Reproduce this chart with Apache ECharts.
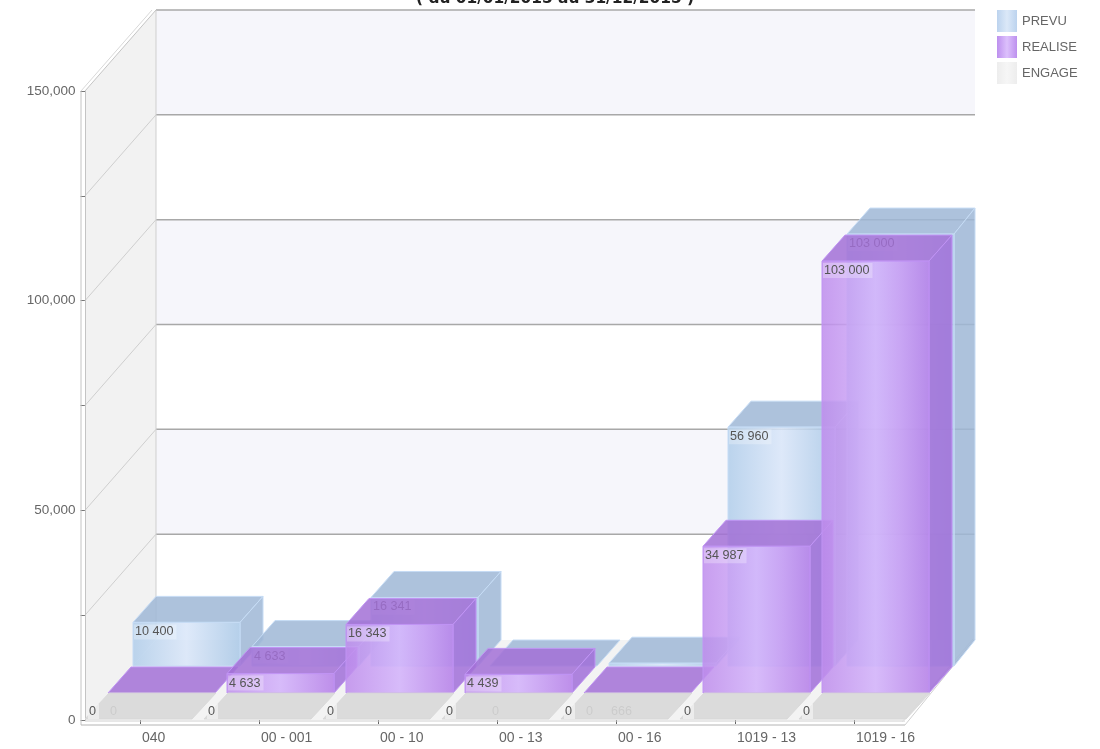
<!DOCTYPE html>
<html>
<head>
<meta charset="utf-8">
<title>PREVU / REALISE / ENGAGE</title>
<script src="https://cdn.jsdelivr.net/npm/echarts@6/dist/echarts.min.js"></script>
<style>
html, body { margin: 0; padding: 0; background: #fff; }
#main { width: 1100px; height: 749px; }
</style>
</head>
<body>
<div id="main"></div>
<script>
var categories = ['040', '00 - 001', '00 - 10', '00 - 13', '00 - 16', '1019 - 13', '1019 - 16'];
var prevu = [10400, 4633, 16341, 0, 666, 56960, 103000];
var realise = [0, 4633, 16343, 4439, 0, 34987, 103000];
var engage = [0, 0, 0, 0, 0, 0, 0];
var wallTicks = [0, 25000, 50000, 75000, 100000, 125000, 150000];
var titleText = '( du 01/01/2015 au 31/12/2015 )';

var dom = document.getElementById('main');
var myChart = echarts.init(dom);

var textFont = '"Liberation Sans", Arial, sans-serif';
var barWidth = 107;

function frontGradient(left, mid, right) {
    return new echarts.graphic.LinearGradient(0, 0, 1, 0, [
        { offset: 0, color: left },
        { offset: 0.5, color: mid },
        { offset: 1, color: right }
    ]);
}

// rows go from front to back, each one is a slab of the floor
var styles = {
    PREVU: {
        row: [48, -54], depth: [23, -26],
        front: ['rgba(176,205,234,0.85)', 'rgba(217,230,249,0.85)', 'rgba(168,199,230,0.85)'],
        top: 'rgba(159,183,214,0.85)', side: 'rgba(159,183,214,0.85)', edge: '#c6dcf5'
    },
    REALISE: {
        row: [23, -27], depth: [23, -26],
        front: ['rgba(190,140,236,0.85)', 'rgba(210,177,251,0.85)', 'rgba(180,125,232,0.85)'],
        top: 'rgba(162,112,214,0.85)', side: 'rgba(160,110,216,0.85)', edge: '#c094f4'
    },
    ENGAGE: {
        row: [0, -1], depth: [24, -26],
        front: ['#e4e4e4', '#eeeeee', '#e4e4e4'],
        top: 'rgba(216,216,216,0.9)', side: 'rgba(216,216,216,0.9)', edge: 'rgba(216,216,216,0.9)'
    }
};

function spaced(v) {
    return String(v).replace(/\B(?=(\d{3})+$)/g, ' ');
}

function poly(points, fill, stroke) {
    return {
        type: 'polygon',
        shape: { points: points },
        style: { fill: fill, stroke: stroke || null, lineWidth: 1 },
        silent: true
    };
}

function line(a, b, color, width) {
    return {
        type: 'line',
        shape: { x1: a[0], y1: a[1], x2: b[0], y2: b[1] },
        style: { stroke: color, lineWidth: width || 1 },
        silent: true
    };
}

function renderWall(params, api) {
    var cs = params.coordSys;
    var x0 = cs.x + 4.5;
    var backX = cs.x + 75.5;
    var rightX = cs.x + 894.5;
    var frontRight = cs.x + 824.5;
    var dy = 81;
    var kids = [];
    var top = api.coord([0, wallTicks[wallTicks.length - 1]])[1];
    var zero = api.coord([0, 0])[1];

    // left wall and floor
    kids.push(poly([[x0, top], [backX, top - dy], [backX, zero - dy], [x0, zero]], '#f2f2f2'));
    kids.push(poly([[x0, zero], [frontRight, zero], [rightX, zero - dy + 1], [backX, zero - dy + 1]], '#f3f3f3'));

    // stripes on the back wall, every second band is tinted
    for (var i = 1; i < wallTicks.length - 1; i += 2) {
        var yA = api.coord([0, wallTicks[i]])[1] - dy;
        var yB = api.coord([0, wallTicks[i + 1]])[1] - dy;
        kids.push(poly([[backX, yA], [rightX, yA], [rightX, yB], [backX, yB]], '#f6f6fb'));
    }

    // wall grid lines and the diagonals on the left wall
    wallTicks.forEach(function (t, n) {
        var y = api.coord([0, t])[1];
        if (n > 0) {
            kids.push(line([backX, y - dy], [rightX, y - dy], '#a8a8a8', 1.5));
        }
        if (n > 0 && n < wallTicks.length - 1) {
            kids.push(line([x0, y], [backX, y - dy], '#cfcfcf'));
        }
    });
    kids.push(line([backX, top - dy], [backX, zero - dy], '#cfcfcf'));

    // doubled frame
    kids.push(line([cs.x + 0.5, top], [cs.x + 0.5, zero + 5], '#c4c4c4'));
    kids.push(line([x0 + 0.5, top], [x0 + 0.5, zero + 1], '#c4c4c4'));
    kids.push(line([cs.x + 0.5, zero + 5], [frontRight, zero + 5], '#b4b4b4'));
    kids.push(line([x0, zero + 1], [frontRight, zero + 1], '#d0d0d0'));
    kids.push(line([frontRight, zero + 5], [rightX, zero - dy], '#d0d0d0'));
    kids.push(line([frontRight - 3, zero + 2], [rightX - 2, zero - dy], '#e0e0e0'));
    kids.push(line([cs.x + 0.5, top], [backX - 4, top - dy], '#d8d8d8'));
    kids.push(line([x0, top], [backX, top - dy], '#c4c4c4'));

    return { type: 'group', children: kids };
}

function barRenderer(name) {
    var st = styles[name];
    return function (params, api) {
        var cs = params.coordSys;
        var wallEdge = cs.x + 894.5;
        var idx = api.value(0);
        var value = api.value(1);
        var base = api.coord([idx, 0]);
        var head = api.coord([idx, value]);
        var xL = base[0] - 55 + st.row[0];
        var xR = xL + barWidth;
        var yB = base[1] + st.row[1];
        var yT = head[1] + st.row[1];
        var dx = st.depth[0];
        var dy = st.depth[1];
        var clamp = function (x) { return Math.min(x, wallEdge); };
        var kids = [];

        kids.push(poly([[xL, yT], [xR, yT], [clamp(xR + dx), yT + dy], [xL + dx, yT + dy]], st.top, st.edge));
        if (value > 0) {
            kids.push(poly([[xR, yT], [clamp(xR + dx), yT + dy], [clamp(xR + dx), yB + dy], [xR, yB]], st.side, st.edge));
            kids.push({
                type: 'rect',
                shape: { x: xL, y: yT, width: barWidth, height: yB - yT },
                style: { fill: frontGradient(st.front[0], st.front[1], st.front[2]), stroke: st.edge, lineWidth: 1 },
                silent: true
            });
        }

        // small values have their label down on the front row
        var labelY = value < 1000 ? base[1] - 16 : yT + 2;
        kids.push({
            type: 'text',
            style: {
                text: spaced(value),
                x: xL + (name === 'ENGAGE' ? 3 : 1),
                y: labelY,
                font: '12.6px ' + textFont,
                fill: '#555',
                backgroundColor: name === 'ENGAGE' ? 'rgba(244,244,244,0.7)' : 'rgba(255,255,255,0.28)',
                padding: [1, 3, 1, 1]
            },
            silent: true
        });
        return { type: 'group', children: kids };
    };
}

function barSeries(name, values) {
    return {
        name: name,
        type: 'custom',
        renderItem: barRenderer(name),
        encode: { x: 0, y: 1 },
        clip: false,
        silent: true,
        data: values.map(function (v, i) { return [i, v]; })
    };
}

var option = {
    animation: false,
    title: {
        text: titleText,
        left: 550,
        textAlign: 'center',
        top: -14,
        textStyle: { fontSize: 15.4, fontWeight: 'bold', color: '#222', fontFamily: '"DejaVu Sans", sans-serif' }
    },
    legend: {
        orient: 'vertical',
        left: 997,
        top: 10,
        padding: 0,
        itemWidth: 20,
        itemHeight: 22,
        itemGap: 4,
        selectedMode: false,
        textStyle: { fontSize: 13, color: '#666', fontFamily: textFont },
        data: [
            { name: 'PREVU', icon: 'rect', itemStyle: { color: frontGradient('#bcd3ee', '#dbe8f8', '#bcd3ee') } },
            { name: 'REALISE', icon: 'rect', itemStyle: { color: frontGradient('#bd90ee', '#dcc0fc', '#bd90ee') } },
            { name: 'ENGAGE', icon: 'rect', itemStyle: { color: frontGradient('#ededed', '#f6f6f6', '#ededed') } }
        ]
    },
    grid: {
        left: 80.5,
        top: 91,
        width: 833,
        height: 629
    },
    xAxis: {
        type: 'category',
        data: categories,
        offset: 3,
        axisLine: { show: false },
        axisTick: { show: true, alignWithLabel: true, length: 4, lineStyle: { color: '#666' } },
        axisLabel: { align: 'left', interval: 0, margin: 8, padding: [0, 0, 0, 2], fontSize: 14, color: '#666', fontFamily: textFont }
    },
    yAxis: {
        type: 'value',
        min: 0,
        max: 150000,
        interval: 25000,
        axisLine: { show: false },
        axisTick: { show: true, inside: true, length: 5, lineStyle: { color: '#777' } },
        splitLine: { show: false },
        axisLabel: {
            margin: 5,
            fontSize: 13.5,
            color: '#666',
            fontFamily: textFont,
            formatter: function (v) {
                return v % 50000 === 0 ? v.toLocaleString('en-US') : '';
            }
        }
    },
    series: [
        {
            type: 'custom',
            renderItem: renderWall,
            encode: { x: 0, y: 1 },
            clip: false,
            silent: true,
            data: [[0, 0]]
        },
        barSeries('PREVU', prevu),
        barSeries('REALISE', realise),
        barSeries('ENGAGE', engage)
    ]
};

if (option && typeof option === 'object') {
    myChart.setOption(option);
}
</script>
</body>
</html>
